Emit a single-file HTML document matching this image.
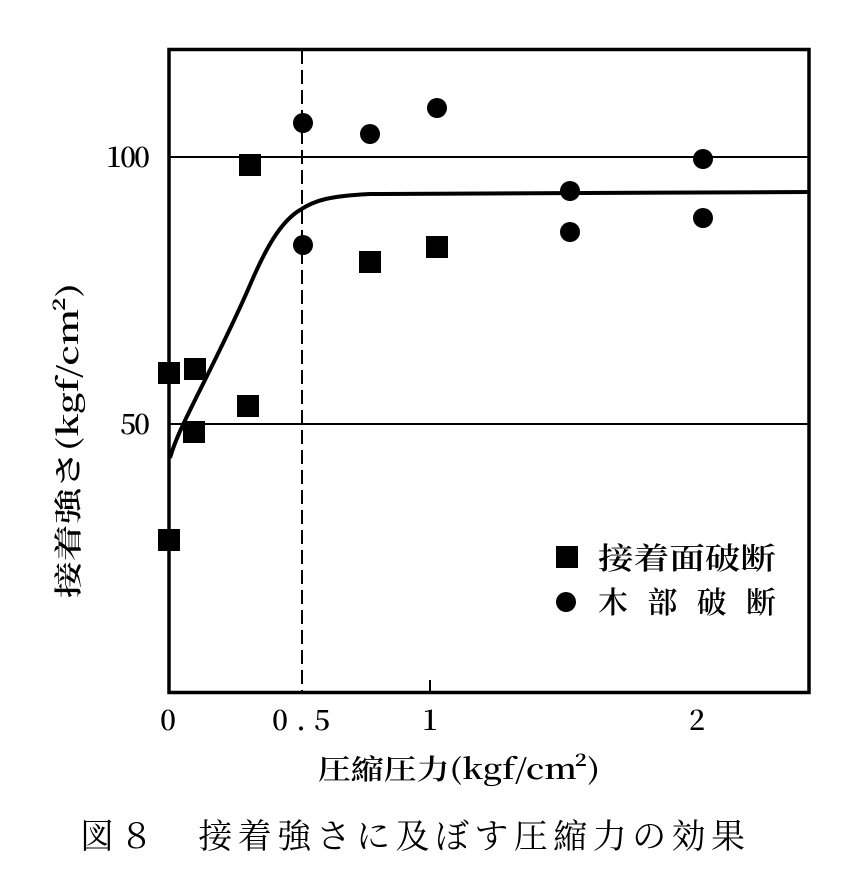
<!DOCTYPE html>
<html><head><meta charset="utf-8"><style>body{margin:0;background:#fff}</style></head><body>
<svg width="853" height="884" viewBox="0 0 853 884" xmlns="http://www.w3.org/2000/svg" font-family="'Noto Serif CJK SC','Liberation Serif',serif">
<rect x="0" y="0" width="853" height="884" fill="#fff"/>
<line x1="170" y1="157" x2="810" y2="157" stroke="#000" stroke-width="2"/>
<line x1="170" y1="424" x2="810" y2="424" stroke="#000" stroke-width="2"/>
<line x1="302" y1="50" x2="302" y2="693" stroke="#000" stroke-width="2" stroke-dasharray="14,6"/>
<line x1="430" y1="680" x2="430" y2="693" stroke="#000" stroke-width="2"/>
<rect x="169" y="49.5" width="640" height="643" fill="none" stroke="#000" stroke-width="3.5"/>
<path d="M170,458 C175,440 185,420 200,390 C215,360 235,320 250,285 C265,250 280,222 300,210 C315,200 330,196 370,194 L810,192" fill="none" stroke="#000" stroke-width="4"/>
<g fill="#000">
<rect x="158" y="529" width="22" height="22"/><rect x="158" y="362" width="22" height="22"/>
<rect x="184" y="358" width="22" height="22"/><rect x="183" y="421" width="22" height="22"/>
<rect x="237" y="395" width="22" height="22"/><rect x="239" y="154" width="22" height="22"/>
<rect x="359" y="251" width="22" height="22"/><rect x="426" y="236" width="22" height="22"/>
<circle cx="303" cy="123" r="10"/><circle cx="303" cy="245" r="10"/>
<circle cx="370" cy="134" r="10"/><circle cx="437" cy="108" r="10"/>
<circle cx="570" cy="191" r="10"/><circle cx="570" cy="232" r="10"/>
<circle cx="703" cy="159" r="10"/><circle cx="703" cy="218" r="10"/>
<rect x="556" y="546" width="22" height="22"/><circle cx="566" cy="602" r="10"/>
</g>
<g font-size="30" fill="#000" font-weight="600">
<text x="598" y="569" textLength="178" lengthAdjust="spacingAndGlyphs">接着面破断</text>
<text x="598" y="613" textLength="178" lengthAdjust="spacing">木部破断</text>
<text x="150" y="167" text-anchor="end" textLength="44" font-size="28">100</text>
<text x="150" y="434" text-anchor="end" textLength="30" font-size="28">50</text>
<text x="168" y="730" text-anchor="middle" font-size="28">0</text>
<text x="272" y="730" textLength="58" lengthAdjust="spacing" font-size="28">0.5</text>
<text x="430" y="730" text-anchor="middle" font-size="28">1</text>
<text x="697" y="730" text-anchor="middle" font-size="28">2</text>
<text x="318" y="779" textLength="282" lengthAdjust="spacingAndGlyphs" font-size="28">圧縮圧力(kgf/cm²)</text>
<text transform="translate(78,598) rotate(-90)" textLength="315" lengthAdjust="spacingAndGlyphs" font-size="28">接着強さ(kgf/cm²)</text>
<text x="80" y="848" font-size="34" font-weight="normal" textLength="665" lengthAdjust="spacing">図８　接着強さに及ぼす圧縮力の効果</text>
</g>
</svg>
</body></html>
